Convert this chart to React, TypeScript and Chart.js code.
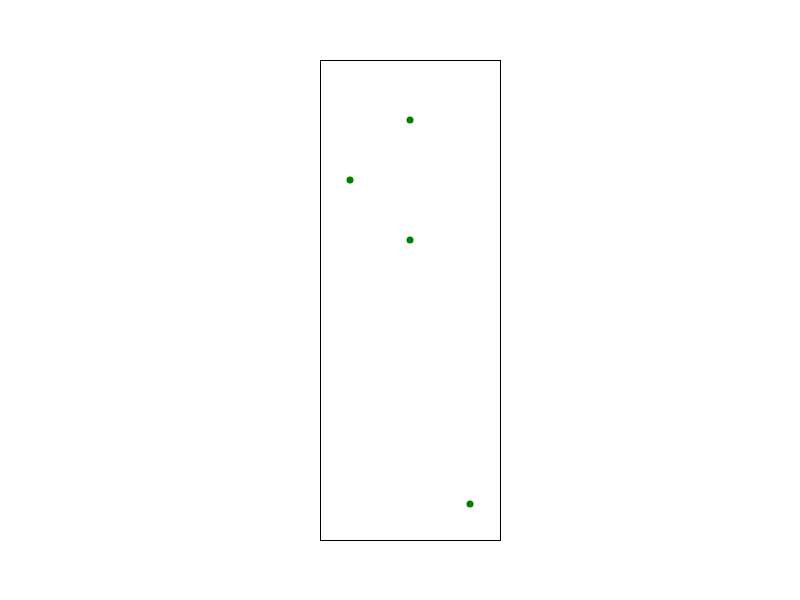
import React, { useEffect, useRef } from "react";
import { Chart, registerables } from "chart.js";

Chart.register(...registerables);

const xValues = [3, 1, 3, 5];
const yValues = [7, 6, 5, 0.6];
const xRange = [0, 6];
const yRange = [0, 8];

const frame = {
  id: "frame",
  afterDraw(chart: any) {
    const { ctx, chartArea } = chart;
    ctx.save();
    ctx.strokeStyle = "#000";
    ctx.lineWidth = 1;
    ctx.strokeRect(
      Math.round(chartArea.left) + 0.5,
      Math.round(chartArea.top) + 0.5,
      Math.round(chartArea.right - chartArea.left),
      Math.round(chartArea.bottom - chartArea.top)
    );
    ctx.restore();
  },
};

export default function App() {
  const ref = useRef<HTMLCanvasElement>(null);
  useEffect(() => {
    const chart = new Chart(ref.current!, {
      type: "scatter",
      data: {
        datasets: [
          {
            data: xValues.map((x, i) => ({ x, y: yValues[i] })),
            backgroundColor: "#008000",
            borderColor: "#008000",
            pointRadius: 3.5,
            borderWidth: 0,
          },
        ],
      },
      options: {
        responsive: false,
        animation: false,
        layout: { padding: { left: 320, top: 60, right: 300, bottom: 60 } },
        plugins: { legend: { display: false }, tooltip: { enabled: false } },
        scales: {
          x: { type: "linear", display: false, min: xRange[0], max: xRange[1] },
          y: { type: "linear", display: false, min: yRange[0], max: yRange[1] },
        },
      },
      plugins: [frame],
    });
    return () => chart.destroy();
  }, []);
  return (
    <div style={{ position: "fixed", left: 0, top: 0, width: 800, height: 600, background: "#fff" }}>
      <canvas ref={ref} width={800} height={600} style={{ display: "block" }} />
    </div>
  );
}
